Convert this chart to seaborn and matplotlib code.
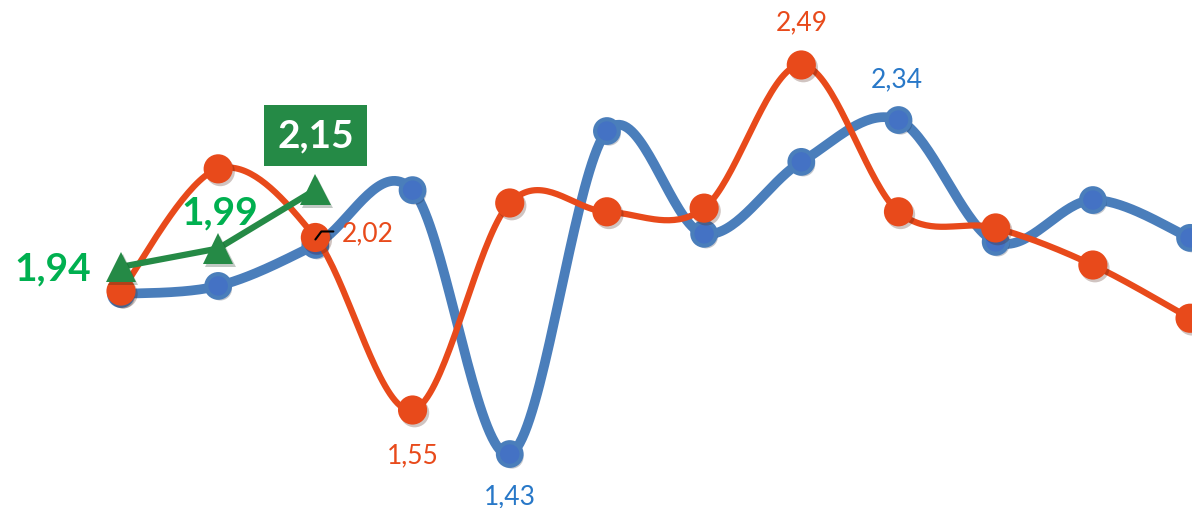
import numpy as np
import pandas as pd
import matplotlib
matplotlib.use("Agg")
import matplotlib.pyplot as plt
import matplotlib.patheffects as pe
import matplotlib.transforms as mtransforms
import seaborn as sns

# values
points = list(range(12))
blue_vals = [1.866, 1.888, 2.00, 2.149, 1.43, 2.31, 2.03, 2.226, 2.34, 2.008, 2.122, 2.019]
orange_vals = [1.874, 2.207, 2.02, 1.55, 2.114, 2.09, 2.10, 2.49, 2.09, 2.046, 1.945, 1.80]
green_points = [0, 1, 2]
green_vals = [1.94, 1.99, 2.15]

blue_line = "#4A7EBB"
blue_fill = "#4472C4"
blue_text = "#2878C8"
orange = "#E84A1B"
green = "#258A46"
green_text = "#00B050"


def smooth(xs, ys, n=40):
    # Excel-style smoothed line: cubic bezier per segment (Catmull-Rom control points)
    xs = np.asarray(xs, float)
    ys = np.asarray(ys, float)
    px = np.concatenate([[xs[0]], xs, [xs[-1]]])
    py = np.concatenate([[ys[0]], ys, [ys[-1]]])
    out_x, out_y = [], []
    t = np.linspace(0, 1, n)
    for i in range(len(xs) - 1):
        p0 = np.array([px[i + 1], py[i + 1]])
        p3 = np.array([px[i + 2], py[i + 2]])
        c1 = p0 + (p3 - np.array([px[i], py[i]])) / 6
        c2 = p3 - (np.array([px[i + 3], py[i + 3]]) - p0) / 6
        b = ((1 - t) ** 3)[:, None] * p0 + (3 * (1 - t) ** 2 * t)[:, None] * c1 \
            + (3 * (1 - t) * t ** 2)[:, None] * c2 + (t ** 3)[:, None] * p3
        out_x.extend(b[:, 0])
        out_y.extend(b[:, 1])
    return pd.DataFrame({"x": out_x, "y": out_y})


sns.set_style("white")
plt.rcParams["font.family"] = ["Lato", "DejaVu Sans"]

fig = plt.figure(figsize=(11.92, 5.08), dpi=100)
ax = fig.add_axes([0, 0, 1, 1])
ax.set_xlim(-1.245, 11.02)
ax.set_ylim(1.283, 2.667)
ax.axis("off")

shadow = [pe.SimplePatchShadow(offset=(1.5, -2), alpha=0.25), pe.Normal()]

# blue series
sb = smooth(points, blue_vals)
sns.lineplot(data=sb, x="x", y="y", sort=False, color=blue_line, lw=7, ax=ax,
             solid_capstyle="round", zorder=2)
ax.plot(points, blue_vals, "o", ms=17, mfc=blue_fill, mec=blue_line, mew=3,
        zorder=3, path_effects=shadow)

# orange series
so = smooth(points, orange_vals)
sns.lineplot(data=so, x="x", y="y", sort=False, color=orange, lw=4.5, ax=ax,
             solid_capstyle="round", zorder=4)
ax.plot(points, orange_vals, "o", ms=21, mfc=orange, mec=orange, mew=0,
        zorder=5, path_effects=shadow)

# green series
sns.lineplot(x=green_points, y=green_vals, color=green, lw=4.5, ax=ax, zorder=6)
ax.plot(green_points, green_vals, "^", ms=22, mfc=green, mec=green, mew=0,
        zorder=7, path_effects=shadow)

# data labels
lab = dict(fontsize=19, ha="center", va="center", zorder=10)
ax.annotate("2,49", (7, orange_vals[7]), xytext=(0, 42), textcoords="offset pixels",
            color=orange, **lab)
ax.annotate("1,55", (3, orange_vals[3]), xytext=(0, -46), textcoords="offset pixels",
            color=orange, **lab)
ax.annotate("2,02", (2, orange_vals[2]), xytext=(52, 4), textcoords="offset pixels",
            color=orange, **lab)
ax.annotate("2,34", (8, blue_vals[8]), xytext=(-2, 40), textcoords="offset pixels",
            color=blue_text, **lab)
ax.annotate("1,43", (4, blue_vals[4]), xytext=(0, -43), textcoords="offset pixels",
            color=blue_text, **lab)

# small leader mark next to the 2,02 label
off = mtransforms.offset_copy(ax.transData, fig=fig, x=0, y=0, units="dots")
x0, y0 = ax.transData.transform((2, orange_vals[2]))
ax.plot([x0, x0 + 6, x0 + 18], [y0 - 2, y0 + 6, y0 + 6], color="black", lw=1.5,
        transform=None, zorder=11)

big = dict(fontsize=28, fontweight="bold", ha="center", va="center", zorder=10)
ax.annotate("1,94", (0, green_vals[0]), xytext=(-68, -2), textcoords="offset pixels",
            color=green_text, **big)
ax.annotate("1,99", (1, green_vals[1]), xytext=(2, 36), textcoords="offset pixels",
            color=green_text, **big)
ax.annotate("2,15", (2, green_vals[2]), xytext=(0, 54), textcoords="offset pixels",
            color="white", bbox=dict(boxstyle="square,pad=0.33", fc=green, ec="none"),
            **big)

fig.savefig("out.png", dpi=100)
